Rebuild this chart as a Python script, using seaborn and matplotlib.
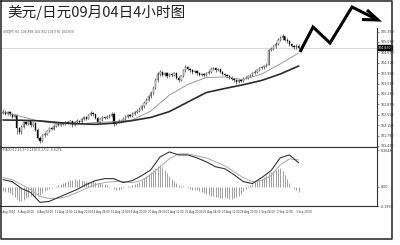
import numpy as np
import matplotlib
matplotlib.use("Agg")
import matplotlib.pyplot as plt
import seaborn as sns
from matplotlib.lines import Line2D
from matplotlib.transforms import ScaledTranslation

# ---------------- data ----------------
title = "美元/日元09月04日4小时图"
symbol_header = "USDJPY,H4  104.898 104.932 104.776 104.830"
macd_header = "MACD(12,26,9) 0.2436 0.2712 -0.0276"

first_open = 102.58
closes = [102.62, 102.55, 102.60, 102.52, 102.45, 102.50, 102.05, 101.90, 102.10, 102.25,
          102.20, 102.28, 102.15, 102.22, 102.00, 101.72, 101.62, 101.80, 101.85, 101.95,
          102.05, 102.02, 102.12, 102.18, 102.15, 102.22, 102.20, 102.25, 102.22, 102.28,
          102.15, 102.25, 102.30, 102.27, 102.35, 102.42, 102.38, 102.50, 102.58, 102.52,
          102.40, 102.25, 102.35, 102.42, 102.40, 102.45, 102.48, 102.55, 102.20, 102.25,
          102.30, 102.28, 102.38, 102.45, 102.50, 102.48, 102.55, 102.60, 102.65, 102.72,
          102.80, 102.92, 103.02, 103.15, 103.25, 103.45, 103.70, 103.92, 103.98, 103.90,
          103.95, 103.85, 103.92, 103.88, 103.95, 103.80, 103.72, 103.85, 104.05, 104.15,
          104.10, 104.05, 103.98, 104.02, 103.95, 103.90, 103.92, 103.88, 103.95, 104.00,
          104.10, 104.12, 104.05, 104.08, 103.98, 103.92, 103.88, 103.85, 103.80, 103.75,
          103.70, 103.65, 103.72, 103.68, 103.78, 103.80, 103.85, 103.88, 103.95, 104.00,
          104.05, 104.12, 104.15, 104.20, 104.25, 104.75, 104.80, 104.88, 104.95, 105.10,
          105.15, 105.22, 105.10, 105.05, 104.95, 104.90, 104.85, 104.90, 104.83]
highs = [102.72, 102.66, 102.65, 102.63, 102.56, 102.55, 102.53, 102.10, 102.14, 102.30,
         102.30, 102.33, 102.31, 102.27, 102.25, 102.04, 101.78, 101.84, 101.90, 101.99,
         102.09, 102.10, 102.16, 102.22, 102.23, 102.26, 102.27, 102.29, 102.29, 102.33,
         102.31, 102.28, 102.35, 102.34, 102.40, 102.48, 102.47, 102.55, 102.64, 102.62,
         102.55, 102.43, 102.39, 102.46, 102.47, 102.49, 102.53, 102.62, 102.60, 102.30,
         102.35, 102.34, 102.42, 102.49, 102.55, 102.54, 102.60, 102.65, 102.70, 102.77,
         102.86, 102.97, 103.08, 103.20, 103.32, 103.52, 103.78, 104.00, 104.05, 104.02,
         104.00, 103.98, 103.97, 103.95, 104.00, 103.98, 103.84, 103.90, 104.10, 104.22,
         104.20, 104.14, 104.09, 104.07, 104.06, 103.99, 103.97, 103.95, 104.00, 104.05,
         104.16, 104.18, 104.15, 104.12, 104.11, 104.02, 103.96, 103.92, 103.89, 103.84,
         103.79, 103.74, 103.76, 103.75, 103.82, 103.85, 103.89, 103.93, 104.00, 104.05,
         104.10, 104.17, 104.20, 104.25, 104.30, 104.80, 104.86, 104.94, 105.02, 105.17,
         105.22, 105.30, 105.25, 105.15, 105.09, 105.00, 104.94, 104.96, 104.95]
lows = [102.52, 102.50, 102.50, 102.48, 102.40, 102.42, 101.85, 101.84, 101.86, 102.06,
        102.15, 102.16, 102.10, 102.10, 101.95, 101.66, 101.55, 101.58, 101.74, 101.81,
        101.91, 101.97, 101.99, 102.08, 102.11, 102.12, 102.16, 102.17, 102.18, 102.19,
        102.08, 102.12, 102.22, 102.23, 102.24, 102.32, 102.33, 102.35, 102.46, 102.47,
        102.36, 102.20, 102.22, 102.31, 102.36, 102.37, 102.41, 102.45, 102.12, 102.15,
        102.21, 102.23, 102.25, 102.34, 102.41, 102.43, 102.45, 102.51, 102.56, 102.61,
        102.68, 102.76, 102.88, 102.98, 103.10, 103.20, 103.40, 103.66, 103.86, 103.84,
        103.85, 103.80, 103.81, 103.83, 103.84, 103.75, 103.66, 103.68, 103.82, 104.00,
        104.05, 104.00, 103.93, 103.94, 103.90, 103.85, 103.86, 103.83, 103.84, 103.91,
        103.96, 104.06, 104.00, 104.01, 103.94, 103.88, 103.84, 103.80, 103.76, 103.70,
        103.65, 103.58, 103.61, 103.63, 103.65, 103.74, 103.76, 103.81, 103.84, 103.91,
        103.96, 104.01, 104.08, 104.11, 104.16, 104.22, 104.70, 104.75, 104.83, 104.91,
        105.05, 105.10, 105.05, 104.98, 104.90, 104.84, 104.78, 104.80, 104.78]

ma_idx = list(range(0, 129, 8))
ma_fast = [102.60, 102.45, 102.28, 102.20, 102.19, 102.24, 102.27, 102.33, 102.64,
           103.19, 103.56, 103.80, 103.82, 103.73, 103.92, 104.27, 104.65]
ma_slow = [102.33, 102.32, 102.30, 102.24, 102.20, 102.18, 102.22, 102.31, 102.42,
           102.62, 102.95, 103.28, 103.42, 103.55, 103.70, 103.92, 104.20]

macd_idx = list(range(0, 129, 4))
macd_main = [0.07, 0.05, -0.02, -0.06, -0.16, -0.15, -0.11, -0.07, -0.03, 0.02, 0.06,
             0.08, 0.08, 0.04, 0.06, 0.11, 0.17, 0.30, 0.35, 0.32, 0.32, 0.29, 0.25,
             0.20, 0.18, 0.12, 0.05, 0.03, 0.09, 0.16, 0.29, 0.32, 0.24]
macd_signal = [0.09, 0.07, 0.02, -0.03, -0.10, -0.12, -0.12, -0.10, -0.06, -0.02, 0.02,
               0.04, 0.05, 0.05, 0.04, 0.06, 0.12, 0.20, 0.28, 0.33, 0.33, 0.31, 0.29,
               0.25, 0.21, 0.15, 0.09, 0.05, 0.06, 0.11, 0.22, 0.28, 0.27]
macd_hist = [-0.05, -0.06, -0.06, -0.07, -0.09, -0.11, -0.13, -0.15, -0.15, -0.14,
             -0.12, -0.11, -0.10, -0.10, -0.11, -0.10, -0.09, -0.07, -0.05, -0.03,
             -0.02, -0.01, 0.00, 0.01, 0.02, 0.03, 0.04, 0.05, 0.06, 0.07,
             0.07, 0.08, 0.07, 0.08, 0.07, 0.06, 0.06, 0.05, 0.05, 0.06,
             0.05, 0.04, 0.04, 0.03, 0.03, 0.02, 0.01, 0.00, -0.02, -0.03,
             -0.03, -0.02, -0.01, 0.00, 0.01, 0.01, 0.02, 0.03, 0.04, 0.05,
             0.07, 0.09, 0.11, 0.13, 0.15, 0.17, 0.19, 0.21, 0.22, 0.20,
             0.17, 0.14, 0.11, 0.08, 0.06, 0.04, 0.02, 0.01, 0.01, 0.00,
             -0.01, -0.02, -0.03, -0.03, -0.04, -0.05, -0.06, -0.07, -0.08, -0.09,
             -0.10, -0.10, -0.11, -0.11, -0.12, -0.12, -0.11, -0.12, -0.13, -0.13,
             -0.12, -0.11, -0.10, -0.08, -0.05, -0.02, 0.01, 0.02, 0.03, 0.05,
             0.06, 0.07, 0.08, 0.10, 0.12, 0.14, 0.15, 0.16, 0.17, 0.18,
             0.19, 0.16, 0.12, 0.08, 0.04, 0.00, -0.02, -0.04, -0.06]

price_ticks = [101.43, 101.79, 102.15, 102.51, 102.87, 103.23, 103.59, 103.95,
               104.31, 104.67, 105.03, 105.39]
macd_ticks = [0.3648, 0.0, -0.1999]
macd_tick_labels = ["0.3648", "0.00", "-0.1999"]
xtick_idx = list(range(0, 129, 8))
xtick_labels = ["5 Aug 2014", "6 Aug 20:00", "8 Aug 04:00", "11 Aug 12:00", "12 Aug 20:00",
                "14 Aug 04:00", "15 Aug 12:00", "18 Aug 20:00", "20 Aug 04:00",
                "21 Aug 12:00", "22 Aug 20:00", "26 Aug 04:00", "27 Aug 12:00",
                "28 Aug 20:00", "1 Sep 04:00", "2 Sep 12:00", "3 Sep 20:00"]

# ---------------- figure ----------------
sns.set_style("white")
plt.rcParams['font.family'] = ['DejaVu Sans']
W, H = 400, 245
fig = plt.figure(figsize=(W / 100, H / 100), dpi=100)
fig.patch.set_facecolor("white")


def box(l, t, r, b):
    return [l / W, 1 - b / H, (r - l) / W, (b - t) / H]


ax1 = fig.add_axes(box(0, 28, 377, 147.3))
ax2 = fig.add_axes(box(0, 147.3, 377, 206.3), sharex=ax1)

n = len(closes)
idx = np.arange(n)
opens = np.array([first_open] + closes[:-1])
c = np.array(closes)
bull = c >= opens
body_lo = np.minimum(opens, c)
body_h = np.maximum(np.abs(c - opens), 0.012)

# price panel
ax1.axhline(closes[-1], color="#cfcfcf", lw=0.6, zorder=0)
ax1.vlines(idx, lows, highs, color="#111", lw=0.4, zorder=2)
ax1.bar(idx, body_h, bottom=body_lo, width=0.55,
        color=np.where(bull, "white", "black"), edgecolor="#111", lw=0.25, zorder=3)
sns.lineplot(x=ma_idx, y=ma_fast, ax=ax1, color="#8a8a8a", lw=0.6, zorder=4)
sns.lineplot(x=ma_idx, y=ma_slow, ax=ax1, color="#2b2b2b", lw=1.2, zorder=4)
ax1.set_xlim(-1.3, 161.9)
ax1.set_ylim(101.385, 105.513)
ax1.yaxis.tick_right()
ax1.set_yticks(price_ticks)
ax1.set_yticklabels([f"{t:.3f}" for t in price_ticks])
ax1.tick_params(axis="y", labelsize=2.3, length=1.5, width=0.4, pad=1, colors="#333")
ax1.tick_params(axis="x", bottom=False, labelbottom=False)
ax1.text(1.003, closes[-1], f"{closes[-1]:.3f}", transform=ax1.get_yaxis_transform(),
         fontsize=2.3, color="white", va="center", ha="left",
         bbox=dict(boxstyle="square,pad=0.1", fc="black", ec="black"))
ax1.text(0.008, 0.985, symbol_header, transform=ax1.transAxes, fontsize=2.2,
         va="top", ha="left", color="#555")

# MACD panel
ax2.vlines(idx, 0, macd_hist, color="#8f8f8f", lw=0.6, zorder=2)
sns.lineplot(x=macd_idx, y=macd_signal, ax=ax2, color="#a8a8a8", lw=0.7, zorder=3)
sns.lineplot(x=macd_idx, y=macd_main, ax=ax2, color="#333333", lw=0.8, zorder=4)
ax2.set_ylim(-0.193, 0.397)
ax2.yaxis.tick_right()
ax2.set_yticks(macd_ticks)
ax2.set_yticklabels(macd_tick_labels)
ax2.tick_params(axis="y", labelsize=2.3, length=1.5, width=0.4, pad=1, colors="#333")
ax2.set_xticks(xtick_idx)
ax2.set_xticklabels(xtick_labels, ha="left")
ax2.tick_params(axis="x", labelsize=1.9, length=1.2, width=0.4, pad=1.2, colors="#333")
shift = ScaledTranslation(-3.0 / 100, 0, fig.dpi_scale_trans)
for lbl in ax2.get_xticklabels():
    lbl.set_transform(lbl.get_transform() + shift)
ax2.text(0.008, 0.985, macd_header, transform=ax2.transAxes, fontsize=2.2,
         va="top", ha="left", color="#555")

for ax in (ax1, ax2):
    ax.set_facecolor("white")
    ax.set_xlabel("")
    ax.set_ylabel("")
    for side, sp in ax.spines.items():
        sp.set_color("#333")
        sp.set_linewidth(0.8)
    ax.spines["left"].set_visible(False)
ax1.spines["top"].set_visible(False)

# title
fig.text(7 / W, 1 - 12.5 / H, title, fontsize=10.5, ha="left", va="center",
         color="#222", family=["Noto Sans CJK SC", "DejaVu Sans"])

# forecast arrow (figure pixel coordinates)
def fig_line(pts, **kw):
    xs = [p[0] / W for p in pts]
    ys = [1 - p[1] / H for p in pts]
    fig.add_artist(Line2D(xs, ys, transform=fig.transFigure, **kw))

fig_line([(300, 52), (313, 27), (330, 43), (352, 7), (378, 20)],
         color="black", lw=2.2, solid_joinstyle="miter", solid_capstyle="butt")
fig_line([(362, 19.5), (378, 20), (367, 10)],
         color="black", lw=2.2, solid_joinstyle="miter", solid_capstyle="butt")

# outer frame
fig_line([(0.7, 0.7), (391.7, 0.7), (391.7, 239.3), (0.7, 239.3), (0.7, 0.7)],
         color="#222", lw=1.1)

fig.savefig("out.png", dpi=100, facecolor="white")
